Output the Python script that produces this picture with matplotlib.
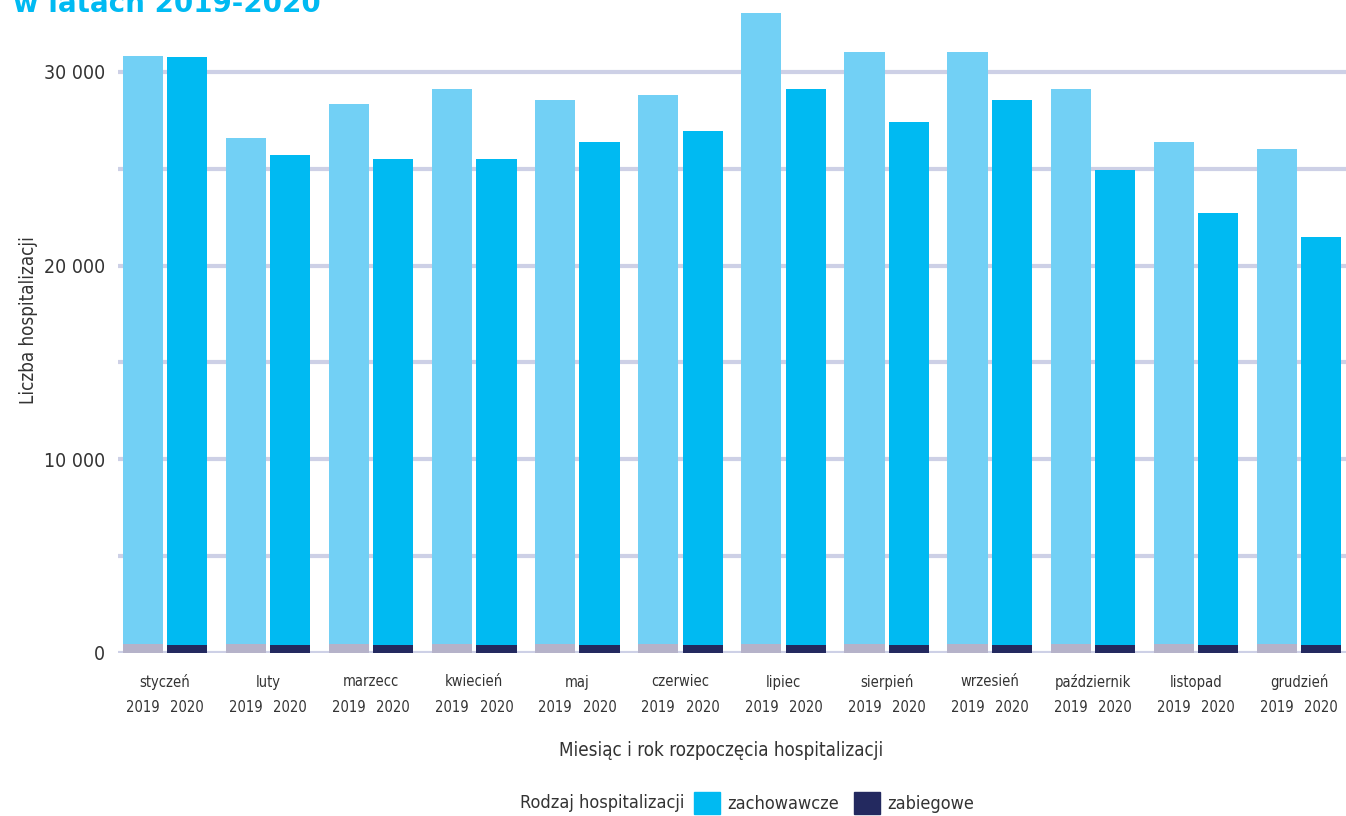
import matplotlib.pyplot as plt
import numpy as np
from matplotlib.patches import Patch

plt.rcParams["font.family"] = ["DejaVu Sans"]
plt.rcParams["font.stretch"] = "condensed"

months = ["styczeń", "luty", "marzecc", "kwiecień", "maj", "czerwiec",
          "lipiec", "sierpień", "wrzesień", "październik", "listopad", "grudzień"]
years = ["2019", "2020"]

# totals, zabiegowe is the thin strip at the bottom
zabiegowe_2019 = [450, 450, 450, 450, 450, 450, 450, 450, 450, 450, 450, 450]
zabiegowe_2020 = [420, 420, 420, 420, 420, 420, 420, 420, 420, 420, 420, 420]
zachowawcze_2019 = [30370, 26150, 27900, 28670, 28100, 28360, 32590, 30580, 30580, 28670, 25940, 25580]
zachowawcze_2020 = [30350, 25300, 25100, 25100, 25970, 26540, 28700, 27000, 28140, 24530, 22310, 21080]

c_light = "#72D0F5"
c_cyan = "#00BAF2"
c_grey = "#B5B2C9"
c_navy = "#23295F"
c_grid = "#CDD0E6"
c_text = "#333333"

fig = plt.figure(figsize=(13.46, 8.16), dpi=100, facecolor="white")
ax = fig.add_axes([118 / 1346, 1 - 653 / 816, 1 - 118 / 1346, (653 - 10) / 816])

x = np.arange(len(months))
w = 0.39
off = 0.215

ax.bar(x - off, zabiegowe_2019, w, color=c_grey, zorder=3)
ax.bar(x - off, zachowawcze_2019, w, bottom=zabiegowe_2019, color=c_light, zorder=3)
ax.bar(x + off, zabiegowe_2020, w, color=c_navy, zorder=3)
ax.bar(x + off, zachowawcze_2020, w, bottom=zabiegowe_2020, color=c_cyan, zorder=3)

ax.set_xlim(-0.456, 11.456)
ax.set_ylim(0, 33200)

ax.set_yticks(np.arange(0, 30001, 5000), minor=True)
ax.set_yticks([0, 10000, 20000, 30000])
ax.set_yticklabels(["0", "10 000", "20 000", "30 000"], fontsize=14, color=c_text)
ax.grid(axis="y", which="both", color=c_grid, linewidth=3, zorder=0)
ax.tick_params(axis="y", which="both", length=0, pad=9)

xt = np.concatenate([x - off, x + off])
ax.set_xticks(xt)
ax.set_xticklabels([years[0]] * len(months) + [years[1]] * len(months), fontsize=10.5, color=c_text)
ax.tick_params(axis="x", length=0, pad=34)

for i, m in enumerate(months):
    ax.annotate(m, (i, 0), xycoords=("data", "axes fraction"), xytext=(0, -29),
                textcoords="offset pixels", ha="center", va="center", fontsize=10.5, color=c_text)

for s in ax.spines.values():
    s.set_visible(False)

ax.set_ylabel("Liczba hospitalizacji", fontsize=13.5, color=c_text)
ax.yaxis.set_label_coords(-80 / 1228, (653 - 320) / 643)
fig.text(721 / 1346, 1 - 750 / 816, "Miesiąc i rok rozpoczęcia hospitalizacji",
         ha="center", va="center", fontsize=13.5, color=c_text)

# legend
fig.text(684 / 1346, 1 - 803 / 816, "Rodzaj hospitalizacji", ha="right", va="center",
         fontsize=13, color=c_text)
handles = [Patch(color=c_cyan, label="zachowawcze"), Patch(color=c_navy, label="zabiegowe")]
fig.legend(handles=handles, loc="center left", bbox_to_anchor=(694 / 1346, 1 - 803 / 816),
           ncol=2, frameon=False, fontsize=13, handlelength=1.45, handleheight=1.45,
           handletextpad=0.4, columnspacing=0.8, borderpad=0, borderaxespad=0,
           labelcolor=c_text)

# title, only its bottom shows in the frame
fig.text(13 / 1346, 1 - 12 / 816, "w latach 2019-2020", ha="left", va="baseline",
         fontsize=20, fontweight="bold", fontstretch="normal", color=c_cyan)

fig.savefig("out.png", dpi=100, facecolor="white")
